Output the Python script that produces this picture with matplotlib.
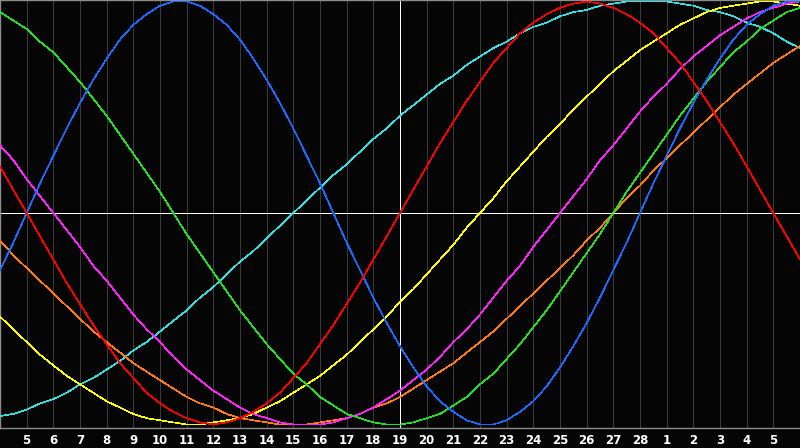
import matplotlib
matplotlib.use("Agg")
import matplotlib.pyplot as plt

# day labels along the bottom (one per grid line)
days = [5, 6, 7, 8, 9, 10, 11, 12, 13, 14, 15, 16, 17, 18, 19, 20,
        21, 22, 23, 24, 25, 26, 27, 28, 1, 2, 3, 4, 5]
today_idx = 15  # the "19" column, drawn white

# curves read every half day, x = 0, 0.5, ... 30
red = [0.22, 0.11, 0, -0.11, -0.22, -0.33, -0.43, -0.53, -0.62, -0.71, -0.78,
       -0.85, -0.90, -0.94, -0.97, -0.99, -1.0, -0.99, -0.97, -0.94, -0.90,
       -0.85, -0.78, -0.71, -0.62, -0.53, -0.43, -0.33, -0.22, -0.11, 0,
       0.11, 0.22, 0.33, 0.43, 0.53, 0.62, 0.71, 0.78, 0.85, 0.90, 0.94, 0.97,
       0.99, 1.0, 0.99, 0.97, 0.94, 0.90, 0.85, 0.78, 0.71, 0.62, 0.53, 0.43,
       0.33, 0.22, 0.11, 0, -0.11, -0.22]
blue = [-0.27, -0.14, 0, 0.14, 0.27, 0.40, 0.52, 0.63, 0.73, 0.82, 0.89, 0.94,
        0.98, 1.0, 1.0, 0.98, 0.94, 0.89, 0.82, 0.73, 0.63, 0.52, 0.40, 0.27,
        0.14, 0, -0.14, -0.27, -0.40, -0.52, -0.63, -0.73, -0.82, -0.89, -0.94,
        -0.98, -1.0, -1.0, -0.98, -0.94, -0.89, -0.82, -0.73, -0.63, -0.52,
        -0.40, -0.27, -0.14, 0, 0.14, 0.27, 0.40, 0.52, 0.63, 0.73, 0.82, 0.89,
        0.94, 0.98, 1.0, 1.0]
green = [0.95, 0.91, 0.87, 0.81, 0.76, 0.69, 0.62, 0.54, 0.46, 0.37, 0.28, 0.19,
         0.10, 0, -0.10, -0.19, -0.28, -0.37, -0.46, -0.54, -0.62, -0.69, -0.76,
         -0.81, -0.87, -0.91, -0.95, -0.97, -0.99, -1.0, -1.0, -0.99, -0.97,
         -0.95, -0.91, -0.87, -0.81, -0.76, -0.69, -0.62, -0.54, -0.46, -0.37,
         -0.28, -0.19, -0.10, 0, 0.10, 0.19, 0.28, 0.37, 0.46, 0.54, 0.62, 0.69,
         0.76, 0.81, 0.87, 0.91, 0.95, 0.97]
cyan = [-0.96, -0.95, -0.93, -0.90, -0.88, -0.85, -0.81, -0.78, -0.74, -0.70,
        -0.65, -0.61, -0.56, -0.51, -0.46, -0.40, -0.35, -0.29, -0.23, -0.18,
        -0.12, -0.06, 0, 0.06, 0.12, 0.18, 0.23, 0.29, 0.35, 0.40, 0.46, 0.51,
        0.56, 0.61, 0.65, 0.70, 0.74, 0.78, 0.81, 0.85, 0.88, 0.90, 0.93, 0.95,
        0.96, 0.98, 0.99, 1.0, 1.0, 1.0, 1.0, 0.99, 0.98, 0.96, 0.95, 0.93,
        0.90, 0.88, 0.85, 0.81, 0.78]
yellow = [-0.49, -0.55, -0.61, -0.67, -0.72, -0.77, -0.81, -0.85, -0.89, -0.92,
          -0.95, -0.97, -0.98, -0.99, -1.0, -1.0, -0.99, -0.98, -0.97, -0.95,
          -0.92, -0.89, -0.85, -0.81, -0.77, -0.72, -0.67, -0.61, -0.55, -0.49,
          -0.42, -0.36, -0.29, -0.22, -0.15, -0.07, 0, 0.07, 0.15, 0.22, 0.29,
          0.36, 0.42, 0.49, 0.55, 0.61, 0.67, 0.72, 0.77, 0.81, 0.85, 0.89,
          0.92, 0.95, 0.97, 0.98, 0.99, 1.0, 1.0, 0.99, 0.98]
magenta = [0.32, 0.25, 0.16, 0.08, 0, -0.08, -0.16, -0.25, -0.32, -0.40, -0.48,
           -0.55, -0.61, -0.68, -0.74, -0.79, -0.84, -0.88, -0.92, -0.95, -0.97,
           -0.99, -1.0, -1.0, -1.0, -0.99, -0.97, -0.95, -0.92, -0.88, -0.84,
           -0.79, -0.74, -0.68, -0.61, -0.55, -0.48, -0.40, -0.32, -0.25, -0.16,
           -0.08, 0, 0.08, 0.16, 0.25, 0.32, 0.40, 0.48, 0.55, 0.61, 0.68, 0.74,
           0.79, 0.84, 0.88, 0.92, 0.95, 0.97, 0.99, 1.0]
orange = [-0.13, -0.20, -0.26, -0.32, -0.38, -0.44, -0.50, -0.56, -0.61, -0.66,
          -0.71, -0.75, -0.79, -0.83, -0.87, -0.90, -0.92, -0.95, -0.97, -0.98,
          -0.99, -1.0, -1.0, -1.0, -0.99, -0.98, -0.97, -0.95, -0.92, -0.90,
          -0.87, -0.83, -0.79, -0.75, -0.71, -0.66, -0.61, -0.56, -0.50, -0.44,
          -0.38, -0.32, -0.26, -0.20, -0.13, -0.07, 0, 0.07, 0.13, 0.20, 0.26,
          0.32, 0.38, 0.44, 0.50, 0.56, 0.61, 0.66, 0.71, 0.75, 0.79]

x = [i / 2 for i in range(len(red))]

curves = [
    (cyan, "#33e0e0"),
    (orange, "#ff7a10"),
    (yellow, "#ffff00"),
    (magenta, "#ff22ff"),
    (green, "#22e022"),
    (blue, "#1a6aff"),
    (red, "#ff0000"),
]

fig = plt.figure(figsize=(8, 4.48), dpi=100, facecolor="#050505")
ax = fig.add_axes([0, 20 / 448, 1, 428 / 448])
ax.set_facecolor("#050505")

lw = 0.72

# day grid
for i in range(1, len(days) + 1):
    if i == today_idx:
        continue
    ax.axvline(i, color="#3a3a3a", lw=lw, zorder=1)
ax.axvline(today_idx, color="white", lw=lw, zorder=2)
ax.axhline(0, color="white", lw=lw, zorder=2)

for vals, col in curves:
    ax.plot(x, vals, color=col, lw=0.45, zorder=3, antialiased=False)

ax.set_xlim(0, 30)
ax.set_ylim(-1.0165, 1.0071)
ax.set_yticks([])
ax.set_xticks(range(1, len(days) + 1))
ax.set_xticklabels([str(d) for d in days], color="white", fontweight="bold",
                   fontsize=8.5, family="DejaVu Sans")
ax.tick_params(axis="x", length=0, pad=4)

for side in ["top", "left", "bottom"]:
    ax.spines[side].set_color("#8c8c8c")
    ax.spines[side].set_linewidth(1.0)
ax.spines["right"].set_visible(False)

fig.savefig("out.png", dpi=100, facecolor=fig.get_facecolor())
